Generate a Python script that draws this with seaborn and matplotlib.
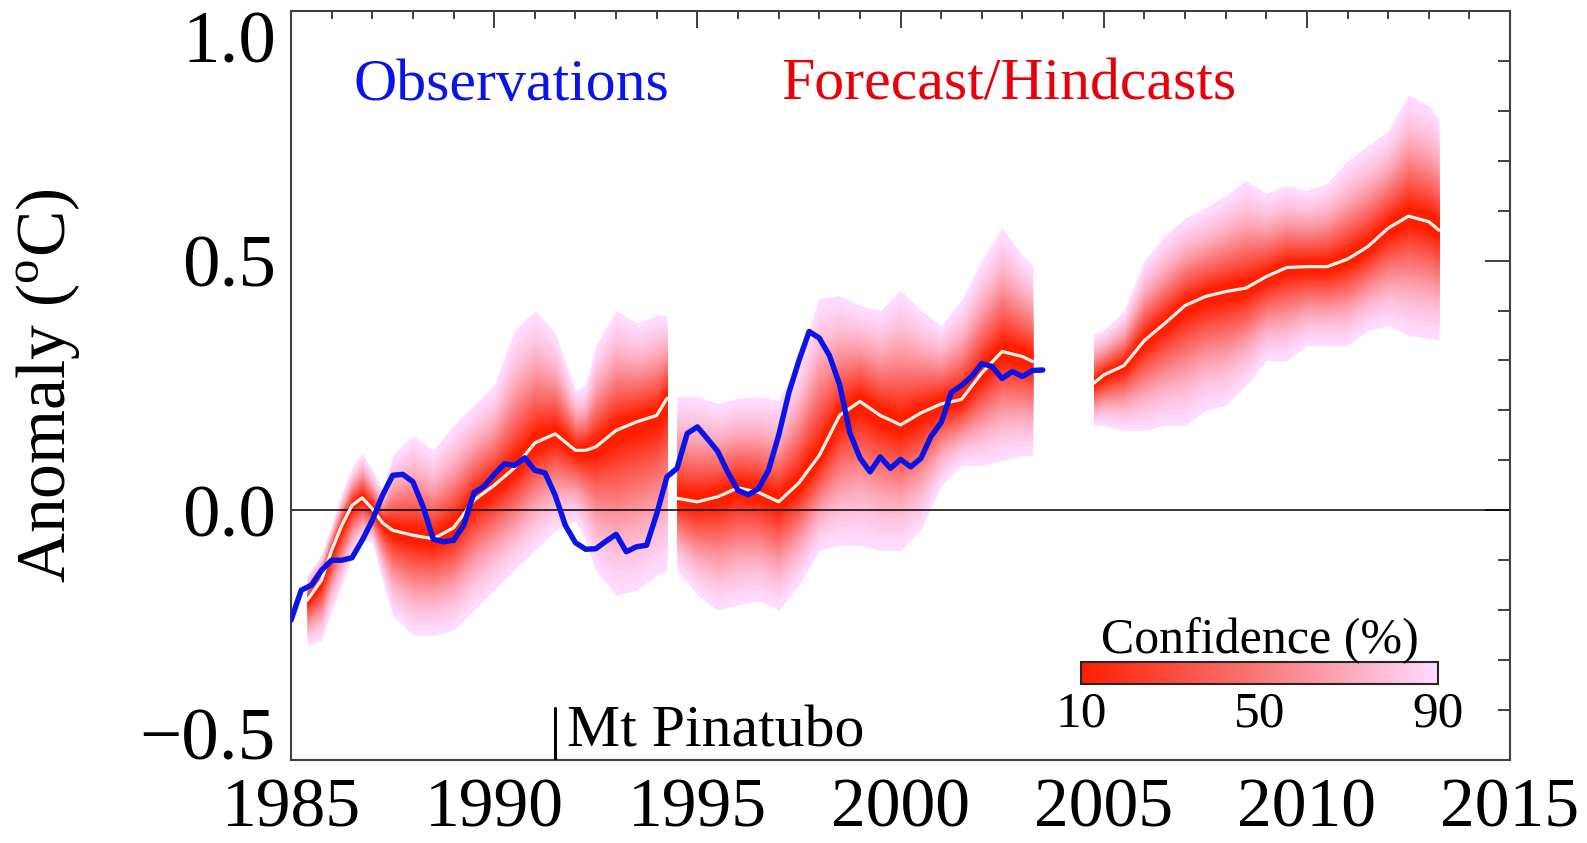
import numpy as np
import matplotlib
matplotlib.use("Agg")
import matplotlib.pyplot as plt
from matplotlib.colors import LinearSegmentedColormap, Normalize
import matplotlib.cm as cm
import seaborn as sns
from statistics import NormalDist

sns.set_style("white")
plt.rcParams["font.family"] = ["Liberation Serif", "DejaVu Serif"]
plt.rcParams["mathtext.fontset"] = "custom"
plt.rcParams["mathtext.rm"] = "Liberation Serif"
plt.rcParams["text.color"] = "black"
plt.rcParams["axes.labelcolor"] = "black"
plt.rcParams["xtick.labelcolor"] = "black"
plt.rcParams["ytick.labelcolor"] = "black"

# observations, quarterly from 1985.0
obs_years = np.arange(1985.0, 2003.75, 0.25)
obs_vals = [-0.22, -0.16, -0.15, -0.12,
            -0.10, -0.10, -0.095, -0.06,
            -0.02, 0.03, 0.07, 0.072,
            0.057, 0.007, -0.058, -0.063,
            -0.06, -0.03, 0.035, 0.048,
            0.072, 0.093, 0.09, 0.105,
            0.08, 0.075, 0.03, -0.03,
            -0.065, -0.078, -0.077, -0.062,
            -0.048, -0.083, -0.073, -0.07,
            -0.007, 0.067, 0.084, 0.154,
            0.167, 0.143, 0.118, 0.076,
            0.04, 0.031, 0.043, 0.08,
            0.15, 0.235, 0.30, 0.358,
            0.345, 0.31, 0.252, 0.156,
            0.105, 0.077, 0.107, 0.084,
            0.102, 0.087, 0.104, 0.148,
            0.176, 0.236, 0.25, 0.268,
            0.294, 0.288, 0.264, 0.278,
            0.268, 0.28, 0.281]

# hindcast block 1: median and 90% bounds
h1_years = [1985.4, 1985.75, 1986.0, 1986.25, 1986.5, 1986.75, 1987.0, 1987.25, 1987.5, 1988.0, 1988.5, 1989.0,
            1989.5, 1990.0, 1990.5, 1991.0, 1991.5, 1992.0, 1992.25, 1992.5, 1993.0, 1993.5, 1994.0, 1994.25]
h1_med = [-0.18, -0.14, -0.08, -0.03, 0.01, 0.025, 0.003, -0.025, -0.04, -0.05, -0.057, -0.035,
          0.02, 0.05, 0.085, 0.135, 0.153, 0.12, 0.12, 0.127, 0.16, 0.177, 0.19, 0.224]
h1_hi = [-0.13, -0.09, -0.03, 0.035, 0.085, 0.115, 0.08, 0.04, 0.11, 0.15, 0.12, 0.17,
         0.21, 0.25, 0.36, 0.40, 0.355, 0.24, 0.25, 0.33, 0.40, 0.375, 0.39, 0.39]
h1_lo = [-0.27, -0.26, -0.2, -0.15, -0.09, -0.06, -0.065, -0.14, -0.21, -0.25, -0.25, -0.24,
         -0.2, -0.16, -0.12, -0.08, -0.04, -0.02, -0.06, -0.12, -0.17, -0.16, -0.13, -0.12]

# hindcast block 2
h2_years = [1994.5, 1995.0, 1995.5, 1996.0, 1996.5, 1997.0, 1997.5, 1998.0, 1998.5, 1999.0,
            1999.5, 2000.0, 2000.5, 2001.0, 2001.5, 2002.0, 2002.5, 2003.0, 2003.25]
h2_med = [0.024, 0.017, 0.027, 0.045, 0.036, 0.017, 0.055, 0.11, 0.19, 0.218,
          0.19, 0.171, 0.195, 0.213, 0.222, 0.275, 0.318, 0.308, 0.298]
h2_hi = [0.228, 0.228, 0.214, 0.224, 0.228, 0.22, 0.30, 0.425, 0.43, 0.41,
         0.40, 0.44, 0.40, 0.37, 0.42, 0.50, 0.565, 0.51, 0.49]
h2_lo = [-0.12, -0.17, -0.2, -0.19, -0.18, -0.2, -0.15, -0.08, -0.07, -0.07,
         -0.08, -0.08, -0.04, 0.05, 0.09, 0.09, 0.1, 0.11, 0.11]

# forecast
fc_years = [2004.75, 2005.0, 2005.5, 2006.0, 2006.5, 2007.0, 2007.5, 2008.0, 2008.5, 2009.0,
            2009.5, 2010.0, 2010.5, 2011.0, 2011.5, 2012.0, 2012.5, 2013.0, 2013.25]
fc_med = [0.254, 0.271, 0.29, 0.34, 0.374, 0.41, 0.428, 0.438, 0.445, 0.468,
          0.486, 0.488, 0.488, 0.503, 0.528, 0.565, 0.589, 0.578, 0.561]
fc_hi = [0.354, 0.36, 0.40, 0.50, 0.55, 0.585, 0.605, 0.63, 0.66, 0.635,
         0.65, 0.64, 0.655, 0.70, 0.73, 0.76, 0.832, 0.81, 0.785]
fc_lo = [0.17, 0.17, 0.16, 0.16, 0.17, 0.17, 0.2, 0.21, 0.25, 0.3,
         0.3, 0.33, 0.33, 0.33, 0.36, 0.37, 0.35, 0.345, 0.34]

conf_ticks = [10, 50, 90]

fan_cmap = LinearSegmentedColormap.from_list(
    "fan", [(1.0, 0.12, 0.0), (0.98, 0.47, 0.47), (1.0, 0.86, 1.0)])
norm = Normalize(10, 90)

fig = plt.figure(figsize=(15.87, 8.43), dpi=100)
ax = fig.add_axes([0.1834, 0.0985, 0.7681, 0.8885])

z90 = NormalDist().inv_cdf(0.95)
levels = np.arange(90, 9, -2)
segments = [(h1_years, h1_med, h1_lo, h1_hi),
            (h2_years, h2_med, h2_lo, h2_hi),
            (fc_years, fc_med, fc_lo, fc_hi)]
for yrs, med, lo, hi in segments:
    yrs, med, lo, hi = map(np.asarray, (yrs, med, lo, hi))
    for p in levels:
        k = NormalDist().inv_cdf(0.5 + p / 200.0) / z90
        ax.fill_between(yrs, med - (med - lo) * k, med + (hi - med) * k,
                        color=fan_cmap(norm(p)), lw=0, zorder=1)

ax.axhline(0, color="black", lw=1.1, zorder=2)

for yrs, med, lo, hi in segments:
    sns.lineplot(x=yrs, y=med, ax=ax, color="#fff4ea", lw=2.3, estimator=None, zorder=3)

sns.lineplot(x=obs_years, y=obs_vals, ax=ax, color="#0a14e6", lw=3.9, estimator=None, zorder=4)

ax.set_xlim(1985, 2015)
ax.set_ylim(-0.5, 1.0)
ax.set_xticks(np.arange(1985, 2016, 5))
ax.set_xticks(np.arange(1985, 2016, 1), minor=True)
ax.set_yticks([-0.5, 0.0, 0.5, 1.0])
ax.set_yticklabels(["\u22120.5", "0.0", "0.5", "1.0"])
ax.set_yticks(np.arange(-0.5, 1.01, 0.1), minor=True)
ax.set_xlabel("")
ax.set_ylabel("Anomaly ($^{\\rm o}$C)", fontsize=50)
ax.yaxis.set_label_coords(-0.171, 0.5)

for s in ax.spines.values():
    s.set_color("#404040")
    s.set_linewidth(1.5)
ax.tick_params(axis="both", which="both", direction="in", top=True, right=True,
               color="#303030", width=1.3)
ax.tick_params(axis="x", which="major", length=12, labelsize=50, pad=13)
ax.tick_params(axis="x", which="minor", length=6)
ax.tick_params(axis="y", which="major", length=18, labelsize=54, pad=11)
ax.tick_params(axis="y", which="minor", length=9)
ylabs = ax.get_yticklabels()
ylabs[0].set_va("baseline")
ylabs[-1].set_va("top")

ax.text(1986.53, 0.822, "Observations", color="#0a14e6", fontsize=43, va="baseline", ha="left")
ax.text(1997.06, 0.822, "Forecast/Hindcasts", color="#e8000a", fontsize=43, va="baseline", ha="left")

# Mt Pinatubo marker
ax.plot([1991.5, 1991.5], [-0.5, -0.395], color="black", lw=2.2, zorder=5)
ax.text(1991.8, -0.474, "Mt Pinatubo", fontsize=43, va="baseline", ha="left")

# confidence colour bar
cax = fig.add_axes([0.6812, 0.1886, 0.2249, 0.0261])
sm = cm.ScalarMappable(norm=norm, cmap=fan_cmap)
sm.set_array([])
cb = fig.colorbar(sm, cax=cax, orientation="horizontal", ticks=conf_ticks)
cb.ax.tick_params(length=0, labelsize=37, pad=5)
cb.outline.set_linewidth(1.5)
fig.text(1260 / 1587, 1 - 653 / 843, "Confidence (%)", fontsize=36, ha="center", va="baseline")

plt.savefig("out.png", dpi=100)
